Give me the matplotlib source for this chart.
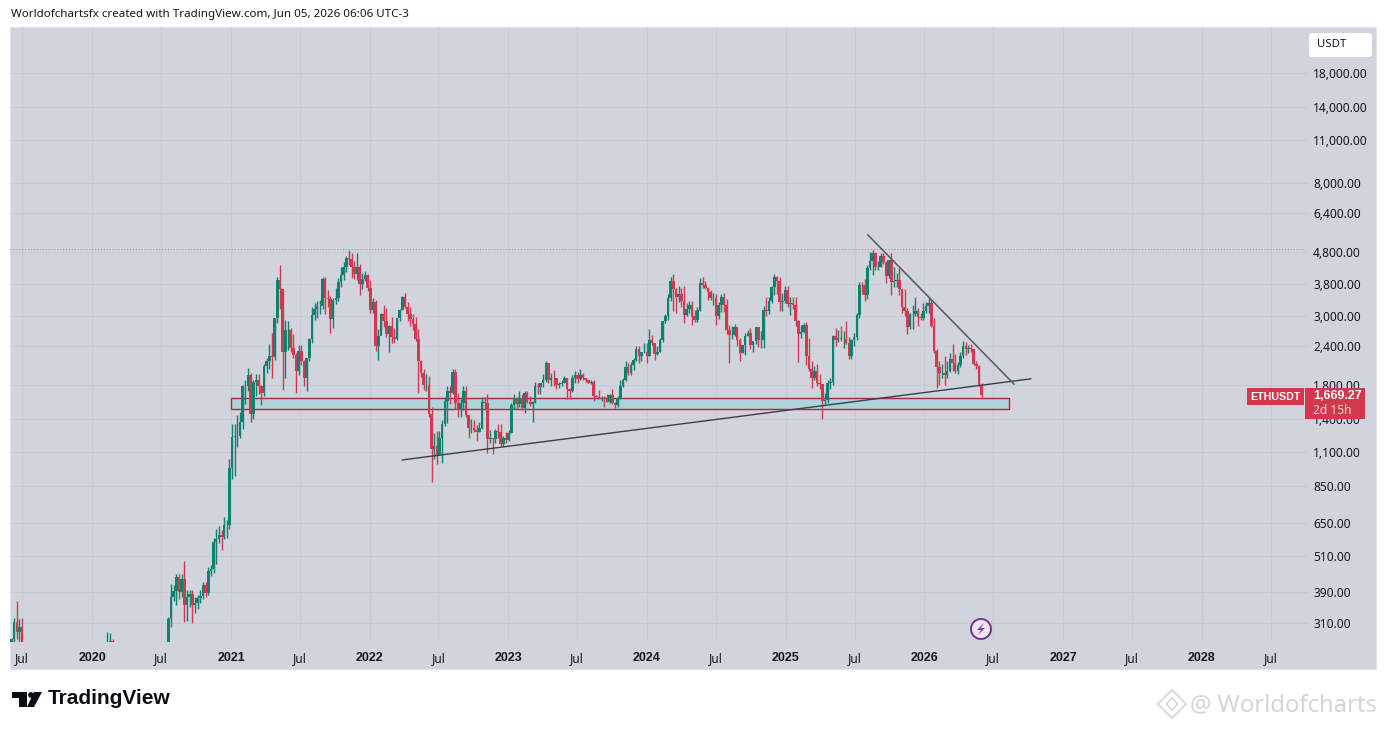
import matplotlib
matplotlib.use('Agg')
import matplotlib.pyplot as plt
import matplotlib.dates as mdates
from matplotlib.patches import Rectangle, Polygon, Circle, FancyBboxPatch
import pandas as pd
import numpy as np

# early fragments of the series, mostly below the visible range
dates_2019 = pd.date_range('2019-06-03', periods=5, freq='7D')
open_2019 = 250
close_2019 = [275, 312, 291, 300, 255]
high_2019 = [278, 322, 365, 320, 322]
low_2019 = [240, 265, 275, 262, 250]

dates_feb = pd.date_range('2020-02-10', periods=3, freq='7D')
open_feb = 225
close_feb = [265, 272, 225]
high_feb = [290, 288, 275]
low_feb = [222, 250, 220]

# weekly candles, jul 2020 to jun 2026
start_week = '2020-07-20'
open_first = 240

close_2020 = [320, 375, 392, 434, 390, 428, 355, 375, 385, 355, 360, 372, 378, 410, 388, 455, 462, 565, 575, 595, 585, 640, 640, 975]
high_2020 = [325, 415, 410, 445, 445, 445, 490, 395, 395, 395, 375, 380, 395, 420, 420, 470, 475, 580, 620, 635, 615, 680, 665, 1040]
low_2020 = [235, 300, 365, 355, 370, 375, 312, 315, 350, 310, 335, 345, 360, 370, 375, 380, 440, 450, 480, 560, 530, 575, 580, 620]

close_2021 = [1225, 1230, 1230, 1370, 1780, 1785, 1930, 1450, 1835, 1870, 1785, 1690, 2070,
              2140, 2235, 2210, 2950, 3900, 3650, 2290, 2700, 2700, 2370, 2250, 1990, 2320,
              2150, 1890, 2190, 2530, 3010, 3150, 3225, 3225, 3925, 3410, 3400, 2920, 3380,
              3410, 3840, 4060, 4290, 4610, 4570, 4300, 4080, 4300, 3790, 3920, 4050, 3680]
high_2021 = [1350, 1350, 1440, 1475, 1800, 1870, 2040, 1960, 1865, 1950, 1945, 1800, 2100,
             2200, 2440, 2640, 2950, 3990, 4360, 3590, 2900, 2880, 2740, 2620, 2280, 2410,
             2410, 2160, 2200, 2550, 3190, 3300, 3350, 3380, 3980, 3980, 3620, 3480, 3420,
             3680, 3970, 4300, 4470, 4670, 4860, 4770, 4500, 4780, 4400, 4100, 4180, 4090]
low_2021 = [900, 920, 1140, 1220, 1300, 1560, 1720, 1370, 1400, 1660, 1680, 1550, 1660,
            1960, 2020, 1890, 2170, 2850, 3150, 1730, 1900, 2330, 2300, 2200, 1700, 1930,
            2080, 1780, 1720, 2150, 2450, 2900, 2950, 3030, 3150, 3030, 3200, 2650, 2730,
            3280, 3350, 3700, 3900, 4150, 4370, 3960, 3920, 3900, 3500, 3650, 3880, 3600]

close_2022 = [3140, 3330, 2400, 2590, 3030, 2880, 2630, 2780, 2560, 2520, 2940, 3140, 3450,
              3200, 3040, 2930, 2830, 2520, 2140, 1970, 1800, 1800, 1450, 1125, 1145, 1075,
              1215, 1350, 1600, 1720, 1700, 1980, 1580, 1490, 1580, 1715, 1440, 1310, 1310,
              1290, 1275, 1305, 1590, 1570, 1210, 1215, 1205, 1280, 1275, 1165, 1220, 1195]
high_2022 = [3900, 3410, 3370, 2720, 3050, 3240, 3180, 2800, 2970, 2730, 2950, 3150, 3480,
             3560, 3310, 3200, 3030, 2970, 2720, 2160, 2030, 1950, 1920, 1530, 1260, 1280,
             1280, 1390, 1640, 1780, 1790, 2030, 2020, 1700, 1620, 1790, 1780, 1400, 1400,
             1390, 1340, 1370, 1640, 1650, 1680, 1290, 1220, 1300, 1350, 1350, 1230, 1270]
low_2022 = [3050, 3060, 2320, 2160, 2700, 2750, 2560, 2300, 2450, 2450, 2500, 2880, 3130,
            3170, 2880, 2780, 2700, 2480, 1700, 1910, 1730, 1720, 1420, 880, 1040, 1000,
            1070, 1010, 1330, 1360, 1560, 1680, 1510, 1420, 1420, 1490, 1420, 1220, 1260,
            1270, 1190, 1270, 1300, 1510, 1090, 1170, 1080, 1170, 1220, 1150, 1150, 1170]

close_2023 = [1265, 1550, 1630, 1565, 1630, 1515, 1690, 1590, 1565, 1590, 1780, 1770, 1820,
              1860, 2120, 1860, 1900, 1890, 1800, 1810, 1830, 1890, 1740, 1720, 1900, 1930,
              1880, 1935, 1890, 1860, 1830, 1845, 1660, 1645, 1635, 1635, 1625, 1590, 1670,
              1580, 1555, 1630, 1780, 1860, 2050, 1960, 2080, 2170, 2350, 2220, 2300, 2300]
high_2023 = [1290, 1570, 1680, 1640, 1720, 1680, 1720, 1720, 1660, 1600, 1840, 1830, 1830,
             1950, 2140, 2120, 1960, 2010, 1900, 1840, 1860, 1920, 1890, 1760, 1930, 1990,
             1980, 2030, 1970, 1890, 1880, 1860, 1860, 1670, 1730, 1660, 1660, 1680, 1680,
             1750, 1590, 1660, 1860, 1900, 2140, 2120, 2130, 2190, 2390, 2400, 2280, 2450]
low_2023 = [1190, 1260, 1510, 1510, 1530, 1490, 1460, 1570, 1540, 1370, 1570, 1680, 1680,
            1770, 1840, 1830, 1790, 1780, 1740, 1760, 1780, 1830, 1620, 1620, 1710, 1830,
            1820, 1860, 1870, 1840, 1820, 1810, 1600, 1640, 1620, 1600, 1530, 1590, 1570,
            1560, 1520, 1530, 1620, 1770, 1850, 1930, 1930, 2010, 2150, 2120, 2150, 2270]

close_2024 = [2220, 2510, 2450, 2260, 2290, 2500, 2880, 2990, 3420, 3880, 3650, 3450, 3510,
              3350, 3010, 3150, 3250, 2990, 2910, 3120, 3820, 3760, 3680, 3570, 3420, 3430,
              3000, 3250, 3450, 3250, 2700, 2600, 2610, 2750, 2510, 2270, 2410, 2580, 2640, 2420,
              2480, 2750, 2500, 2500, 3130, 3100, 3350, 3700, 4000, 3870, 3330, 3350, 3640]
high_2024 = [2450, 2720, 2600, 2370, 2400, 2540, 2890, 3030, 3520, 3990, 4090, 3680, 3730,
             3680, 3730, 3300, 3350, 3350, 3140, 3200, 3950, 3980, 3890, 3720, 3620, 3560,
             3520, 3310, 3520, 3560, 3400, 2800, 2780, 2820, 2770, 2550, 2420, 2650, 2700, 2730,
             2490, 2770, 2770, 2680, 3220, 3450, 3450, 3740, 4090, 4020, 3990, 3550, 3740]
low_2024 = [2110, 2220, 2420, 2170, 2240, 2300, 2470, 2850, 2900, 3350, 3100, 3060, 3320,
            3200, 2850, 3000, 3070, 2810, 2860, 2860, 3100, 3670, 3650, 3370, 3370, 3250,
            2810, 2930, 3080, 3080, 2630, 2110, 2520, 2580, 2400, 2150, 2270, 2250, 2590, 2350,
            2300, 2440, 2380, 2360, 2360, 3000, 3030, 3300, 3500, 3520, 3100, 3100, 3300]

close_2025 = [3280, 3300, 3240, 2880, 2630, 2660, 2810, 2220, 2020, 1890, 2000, 1820, 1810,
              1600, 1610, 1820, 1840, 2580, 2500, 2540, 2530, 2530, 2450, 2230, 2500, 2570,
              3010, 3760, 3750, 3490, 4260, 4480, 4780, 4300, 4310, 4660, 4450, 4030, 4520,
              3850, 3890, 3900, 3650, 3200, 3100, 2770, 3030, 3040, 3110, 2970, 2950, 3100]
high_2025 = [3740, 3450, 3450, 3440, 2900, 2800, 2850, 2860, 2550, 2150, 2070, 2100, 1950,
             1690, 1690, 1860, 1890, 2600, 2740, 2700, 2790, 2680, 2880, 2570, 2530, 2640,
             3050, 3860, 3860, 3940, 4350, 4790, 4870, 4650, 4490, 4750, 4770, 4200, 4540,
             4750, 4290, 4100, 4260, 3660, 3650, 3170, 3070, 3240, 3440, 3180, 3060, 3300]
low_2025 = [3200, 3020, 3150, 2780, 2130, 2540, 2640, 2080, 1990, 1760, 1860, 1780, 1750,
            1400, 1560, 1570, 1750, 1800, 2400, 2470, 2490, 2370, 2440, 2180, 2180, 2390,
            2500, 2960, 3510, 3350, 3400, 4200, 4060, 4200, 4200, 4300, 4400, 3830, 3950,
            3500, 3700, 3700, 3500, 3060, 3000, 2620, 2710, 2720, 3000, 2780, 2910, 2910]

close_2026 = [3230, 3300, 2790, 2320, 2060, 1960, 1960, 1940, 1990, 2180, 2110, 2000, 2090,
              2230, 2390, 2340, 2370, 2340, 2100, 2070, 1800, 1669.27]
high_2026 = [3310, 3450, 3370, 2960, 2350, 2150, 2100, 2220, 2150, 2280, 2430, 2260, 2130,
             2300, 2480, 2470, 2420, 2440, 2350, 2150, 2090, 1830]
low_2026 = [3050, 3050, 2750, 2280, 1760, 1800, 1900, 1800, 1900, 1980, 2000, 1970, 1950,
            2050, 2200, 2250, 2280, 2300, 2090, 2020, 1780, 1640]

price_ticks = [18000, 14000, 11000, 8000, 6400, 4800, 3800, 3000, 2400, 1800, 1400, 1100, 850, 650, 510, 390, 310]
date_ticks = ['2019-07-01', '2020-01-01', '2020-07-01', '2021-01-01', '2021-07-01', '2022-01-01', '2022-07-01',
              '2023-01-01', '2023-07-01', '2024-01-01', '2024-07-01', '2025-01-01', '2025-07-01', '2026-01-01',
              '2026-07-01', '2027-01-01', '2027-07-01', '2028-01-01', '2028-07-01']
date_labels = ['Jul', '2020', 'Jul', '2021', 'Jul', '2022', 'Jul', '2023', 'Jul', '2024', 'Jul', '2025', 'Jul', '2026',
               'Jul', '2027', 'Jul', '2028', 'Jul']

# drawings on the chart (date, price)
support_line = (['2022-03-28', '2026-10-08'], [1034, 1882])
resist_line = (['2025-08-05', '2026-08-25'], [5450, 1810])
zone_dates = ['2021-01-01', '2026-08-11']
zone_prices = [1507, 1636]
ath_price = 4910

GREEN = '#10806f'
RED = '#d13a4e'
PANEL = '#d1d4dc'
TEXT = '#131722'

plt.rcParams['font.family'] = ['Noto Sans', 'DejaVu Sans']

W, H = 1386, 730
fig = plt.figure(figsize=(W / 100, H / 100), dpi=100, facecolor='white')

# back layer in pixel coords for the grey panel
back = fig.add_axes([0, 0, 1, 1], zorder=0)
back.set_xlim(0, W)
back.set_ylim(H, 0)
back.axis('off')
back.add_patch(Rectangle((10, 27), 1366, 642, fc=PANEL, ec='#e3e5ea', lw=0.8))

# main chart, 10..1309 px wide and 27..642 px high
ax = fig.add_axes([10 / W, 1 - 642 / H, 1299 / W, 615 / H], zorder=1)
ax.patch.set_alpha(0)
ax.set_yscale('log')
ax.set_ylim(269.5, 25300)
px_per_day = 138.7 / 365.25
x0 = mdates.date2num(pd.Timestamp('2021-01-01'))
ax.set_xlim(x0 - 221 / px_per_day, x0 + 1078 / px_per_day)
for s in ax.spines.values():
    s.set_visible(False)


def candles(dates, first_open, close, high, low):
    x = mdates.date2num(dates)
    c = np.array(close, dtype=float)
    o = np.r_[first_open, c[:-1]]
    cols = [GREEN if b >= a else RED for a, b in zip(o, c)]
    ax.vlines(x, low, high, colors=cols, lw=1.0, zorder=3)
    ax.bar(x, np.abs(c - o), bottom=np.minimum(o, c), width=6.8, color=cols, lw=0, zorder=3)


close_all = close_2020 + close_2021 + close_2022 + close_2023 + close_2024 + close_2025 + close_2026
high_all = high_2020 + high_2021 + high_2022 + high_2023 + high_2024 + high_2025 + high_2026
low_all = low_2020 + low_2021 + low_2022 + low_2023 + low_2024 + low_2025 + low_2026
weeks = pd.date_range(start_week, periods=len(close_all), freq='7D')

candles(dates_2019, open_2019, close_2019, high_2019, low_2019)
candles(dates_feb, open_feb, close_feb, high_feb, low_feb)
candles(weeks, open_first, close_all, high_all, low_all)

# grid
ax.set_yticks(price_ticks)
ax.set_yticklabels([f'{p:,.2f}' for p in price_ticks])
ax.minorticks_off()
ax.set_xticks(mdates.date2num(pd.to_datetime(date_ticks)))
ax.set_xticklabels(date_labels)
ax.yaxis.tick_right()
ax.tick_params(axis='y', length=0, pad=3, labelsize=8.6, labelcolor=TEXT)
ax.tick_params(axis='x', length=0, pad=7, labelsize=8.6, labelcolor=TEXT)
for lab in ax.get_xticklabels():
    if lab.get_text() != 'Jul':
        lab.set_family('Liberation Sans')
        lab.set_fontweight('bold')
        lab.set_fontsize(9)
ax.grid(True, color='#c7cad4', lw=0.7)
ax.set_axisbelow(True)

# zone and trend lines
zx = mdates.date2num(pd.to_datetime(zone_dates))
ax.add_patch(Rectangle((zx[0], zone_prices[0]), zx[1] - zx[0], zone_prices[1] - zone_prices[0],
                       fc='#afd3da', ec='#a92a3a', lw=1.0, zorder=2))
ax.plot(pd.to_datetime(support_line[0]), support_line[1], color='#3c3f4a', lw=1.0, zorder=4)
ax.plot(pd.to_datetime(resist_line[0]), resist_line[1], color='#55585f', lw=1.1, zorder=4)
ax.axhline(ath_price, xmax=1295 / 1299, color='#858892', lw=0.7, ls=(0, (1, 2)), zorder=1)

# top layer in pixel coords for tags, logo and watermark
top = fig.add_axes([0, 0, 1, 1], zorder=2)
top.set_xlim(0, W)
top.set_ylim(H, 0)
top.axis('off')
top.patch.set_alpha(0)

top.text(11, 14, 'Worldofchartsfx created with TradingView.com, Jun 05, 2026 06:06 UTC-3',
         fontsize=8.35, color=TEXT, va='center', ha='left')

top.add_patch(FancyBboxPatch((1309, 33), 63, 24, boxstyle='round,pad=0,rounding_size=3', fc='white', ec='none'))
top.text(1317, 44.5, 'USDT', fontsize=8.2, color=TEXT, va='center')

top.add_patch(Rectangle((1247, 388), 57, 17, fc=RED, ec='none'))
top.add_patch(Rectangle((1305, 388), 60, 31, fc=RED, ec='none'))
top.text(1275.5, 396.5, 'ETHUSDT', fontsize=7.7, color='white', va='center', ha='center',
         family='Liberation Sans', fontweight='bold')
top.text(1313, 396, '1,669.27', fontsize=9, color='white', va='center', family='Liberation Sans', fontweight='bold')
top.text(1313, 410, '2d 15h', fontsize=8.6, color='#f6d5da', va='center')

# lightning badge
top.add_patch(Circle((981, 629), 10, fc='#ece6f0', ec='#7a2d96', lw=1.4))
top.add_patch(Polygon([(984, 623), (977, 630), (981, 630), (978, 635), (985, 628), (981, 628)], fc='#8a3fa8', ec='none'))

# tradingview logo
top.add_patch(Polygon([(12, 692), (27, 692), (27, 707), (19, 707), (19, 698), (12, 698)], fc='#0b0e14', ec='none'))
top.add_patch(Circle((31, 695), 2.9, fc='#0b0e14', ec='none'))
top.add_patch(Polygon([(34, 692), (42, 692), (34, 707), (27, 707)], fc='#0b0e14', ec='none'))
top.text(48, 699, 'TradingView', fontsize=15.0, color='#0b0e14', va='center', family='Liberation Sans', fontweight='bold')

# watermark
wm = '#dcdcdc'
top.add_patch(Polygon([(1172, 690), (1186, 704), (1172, 718), (1158, 704)], fc='none', ec=wm, lw=1.6))
top.add_patch(Polygon([(1172, 698), (1178, 704), (1172, 710), (1166, 704)], fc='none', ec=wm, lw=1.4))
top.text(1190, 705, '@ Worldofcharts', fontsize=17.2, color='#d6d6d6', va='center', ha='left')

plt.savefig('out.png', dpi=100)
